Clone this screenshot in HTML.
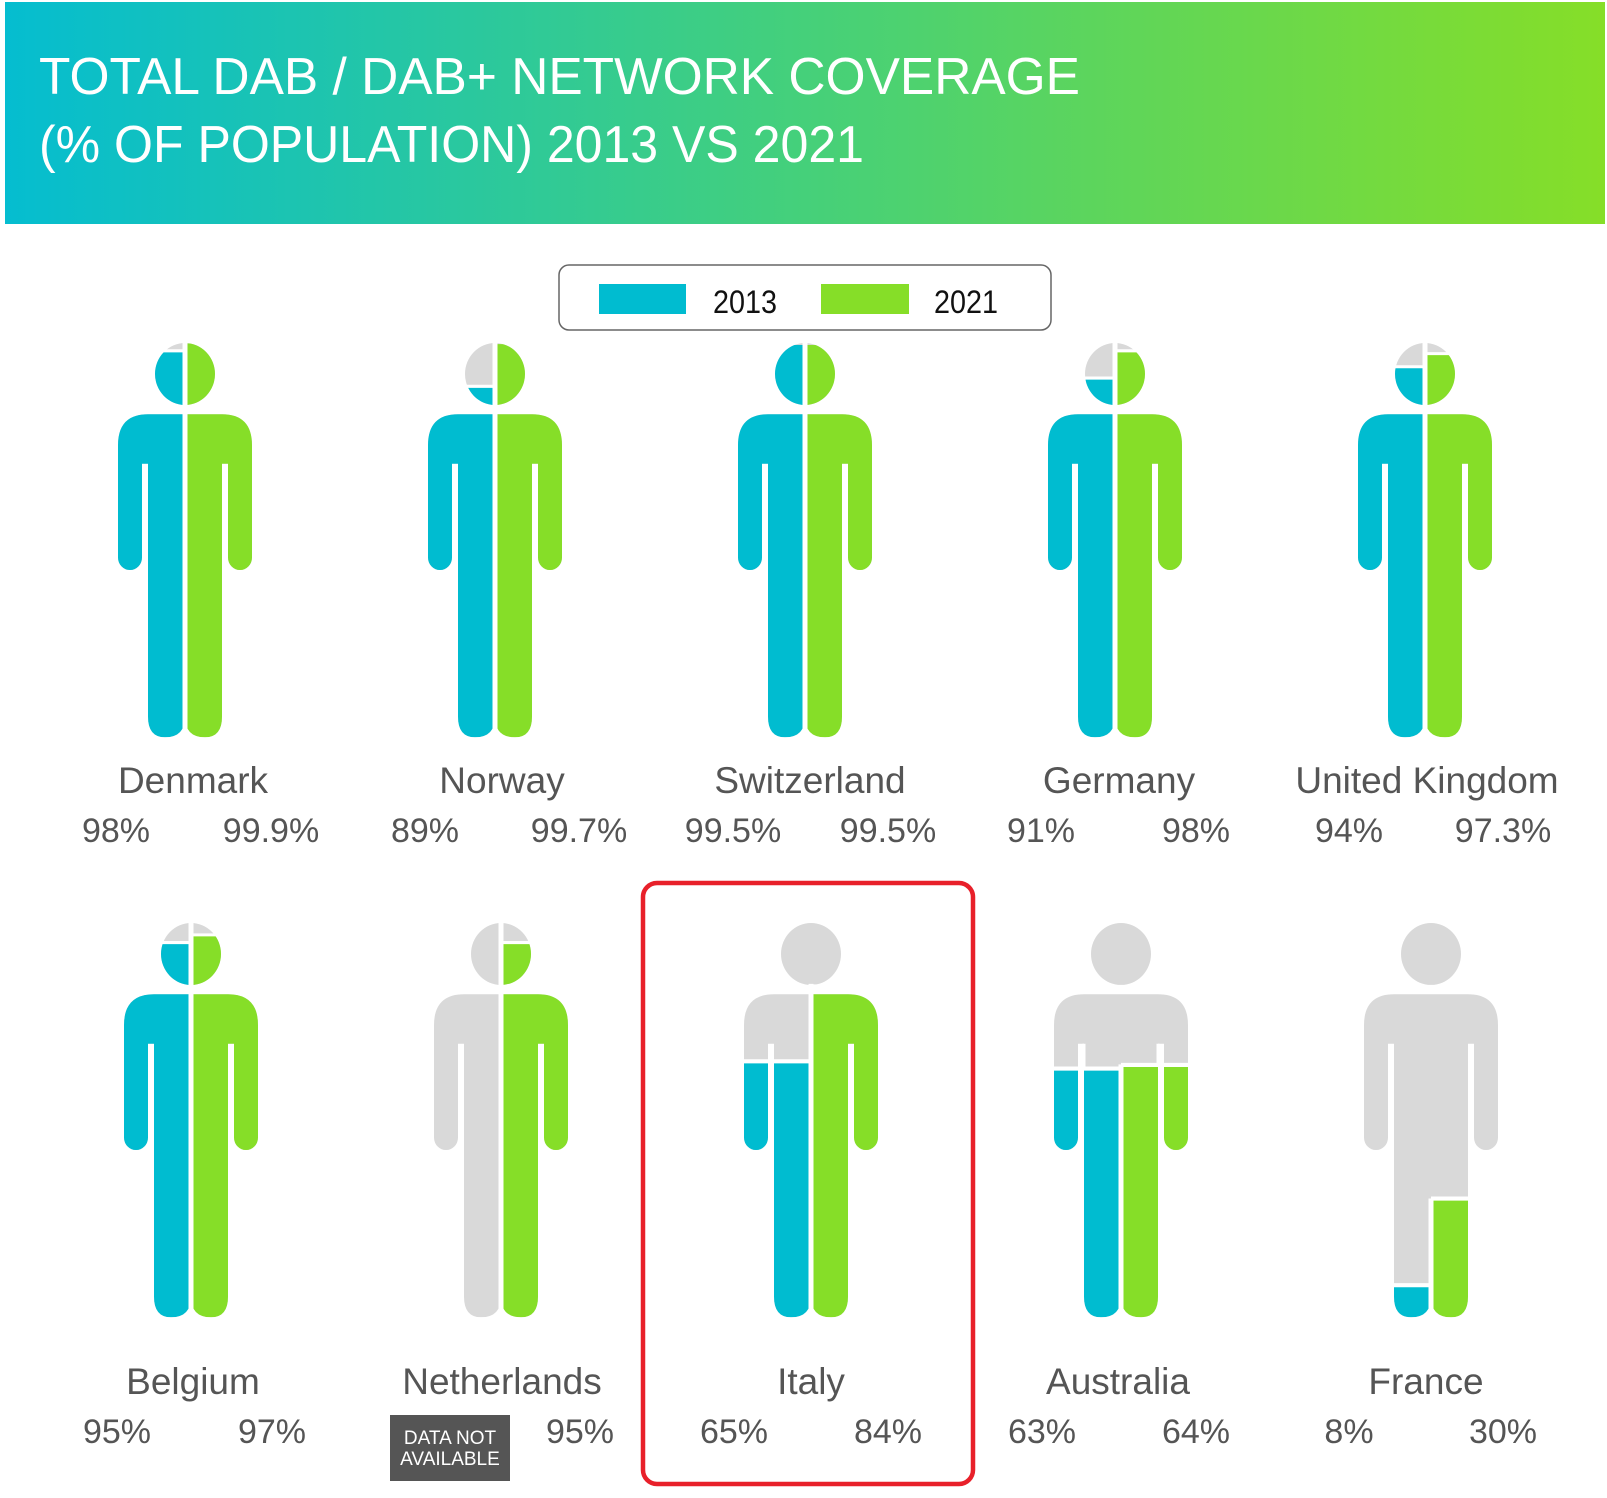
<!DOCTYPE html>
<html><head><meta charset="utf-8"><style>
html,body{margin:0;padding:0;background:#fff;overflow:hidden;width:1607px;height:1498px;}
svg{display:block;}
text{font-family:"Liberation Sans",sans-serif;}
</style></head><body>
<svg width="1607" height="1498" viewBox="0 0 1607 1498" xmlns="http://www.w3.org/2000/svg">
<defs>
<linearGradient id="hg" x1="0" x2="1" y1="0" y2="0">
<stop offset="0" stop-color="#05BDD0"/><stop offset="0.5" stop-color="#45D07A"/><stop offset="1" stop-color="#86DE28"/>
</linearGradient>
<clipPath id="p" clipPathUnits="userSpaceOnUse">
<circle cx="0" cy="30" r="30"/>
<path d="M-67,99 Q-67,69 -37,69 L37,69 Q67,69 67,99 L67,208 A12,12 0 0 1 55,220 A12,12 0 0 1 43,208 L43,117 L37,117 L37,362 Q37,382 20,382 Q0,382 0,362 Q0,382 -20,382 Q-37,382 -37,362 L-37,117 L-43,117 L-43,208 A12,12 0 0 1 -55,220 A12,12 0 0 1 -67,208 Z"/>
</clipPath>
</defs>
<rect x="5" y="2" width="1600" height="222" fill="url(#hg)"/>
<text x="39" y="94" font-size="52" fill="#fff" textLength="1041" lengthAdjust="spacingAndGlyphs">TOTAL DAB / DAB+ NETWORK COVERAGE</text>
<text x="39" y="162" font-size="52" fill="#fff" textLength="825" lengthAdjust="spacingAndGlyphs">(% OF POPULATION) 2013 VS 2021</text>

<rect x="559" y="265" width="492" height="65" rx="10" fill="#fff" stroke="#666" stroke-width="1.5"/>
<rect x="599" y="284" width="87" height="30" fill="#00BCD0"/>
<rect x="821" y="284" width="88" height="30" fill="#86DE28"/>
<text x="713" y="313" font-size="32" fill="#111" textLength="64" lengthAdjust="spacingAndGlyphs">2013</text>
<text x="934" y="313" font-size="32" fill="#111" textLength="64" lengthAdjust="spacingAndGlyphs">2021</text>

<g fill="none">
<g transform="translate(185,343) scale(1,1.032)"><g clip-path="url(#p)"><rect x="-70" y="-5" width="140" height="395" fill="#D9D9D9"/><rect x="-70" y="7.6" width="70" height="390" fill="#00BCD0"/><rect x="0" y="0.4" width="70" height="390" fill="#86DE28"/></g><line x1="-70" x2="0" y1="7.6" y2="7.6" stroke="#fff" stroke-width="3"/><line x1="0" x2="0" y1="-5" y2="390" stroke="#fff" stroke-width="5"/></g>
<g transform="translate(495,343) scale(1,1.032)"><g clip-path="url(#p)"><rect x="-70" y="-5" width="140" height="395" fill="#D9D9D9"/><rect x="-70" y="42" width="70" height="390" fill="#00BCD0"/><rect x="0" y="1.1" width="70" height="390" fill="#86DE28"/></g><line x1="-70" x2="0" y1="42" y2="42" stroke="#fff" stroke-width="3"/><line x1="0" x2="0" y1="-5" y2="390" stroke="#fff" stroke-width="5"/></g>
<g transform="translate(805,343) scale(1,1.032)"><g clip-path="url(#p)"><rect x="-70" y="-5" width="140" height="395" fill="#D9D9D9"/><rect x="-70" y="1.9" width="70" height="390" fill="#00BCD0"/><rect x="0" y="1.9" width="70" height="390" fill="#86DE28"/></g><line x1="0" x2="0" y1="-5" y2="390" stroke="#fff" stroke-width="5"/></g>
<g transform="translate(1115,343) scale(1,1.032)"><g clip-path="url(#p)"><rect x="-70" y="-5" width="140" height="395" fill="#D9D9D9"/><rect x="-70" y="34" width="70" height="390" fill="#00BCD0"/><rect x="0" y="7.6" width="70" height="390" fill="#86DE28"/></g><line x1="-70" x2="0" y1="34" y2="34" stroke="#fff" stroke-width="3"/><line x1="0" x2="70" y1="7.6" y2="7.6" stroke="#fff" stroke-width="3"/><line x1="0" x2="0" y1="-5" y2="390" stroke="#fff" stroke-width="5"/></g>
<g transform="translate(1425,343) scale(1,1.032)"><g clip-path="url(#p)"><rect x="-70" y="-5" width="140" height="395" fill="#D9D9D9"/><rect x="-70" y="23" width="70" height="390" fill="#00BCD0"/><rect x="0" y="10.3" width="70" height="390" fill="#86DE28"/></g><line x1="-70" x2="0" y1="23" y2="23" stroke="#fff" stroke-width="3"/><line x1="0" x2="70" y1="10.3" y2="10.3" stroke="#fff" stroke-width="3"/><line x1="0" x2="0" y1="-5" y2="390" stroke="#fff" stroke-width="5"/></g>

<g transform="translate(191,923) scale(1,1.032)"><g clip-path="url(#p)"><rect x="-70" y="-5" width="140" height="395" fill="#D9D9D9"/><rect x="-70" y="19" width="70" height="390" fill="#00BCD0"/><rect x="0" y="11.5" width="70" height="390" fill="#86DE28"/></g><line x1="-70" x2="0" y1="19" y2="19" stroke="#fff" stroke-width="3"/><line x1="0" x2="70" y1="11.5" y2="11.5" stroke="#fff" stroke-width="3"/><line x1="0" x2="0" y1="-5" y2="390" stroke="#fff" stroke-width="5"/></g>
<g transform="translate(501,923) scale(1,1.032)"><g clip-path="url(#p)"><rect x="-70" y="-5" width="140" height="395" fill="#D9D9D9"/><rect x="0" y="19" width="70" height="390" fill="#86DE28"/></g><line x1="0" x2="70" y1="19" y2="19" stroke="#fff" stroke-width="3"/><line x1="0" x2="0" y1="-5" y2="390" stroke="#fff" stroke-width="5"/></g>
<g transform="translate(811,923) scale(1,1.032)"><g clip-path="url(#p)"><rect x="-70" y="-5" width="140" height="395" fill="#D9D9D9"/><rect x="-70" y="134" width="70" height="390" fill="#00BCD0"/><rect x="0" y="61" width="70" height="390" fill="#86DE28"/></g><line x1="-70" x2="0" y1="134" y2="134" stroke="#fff" stroke-width="4"/><line x1="0" x2="70" y1="61" y2="61" stroke="#fff" stroke-width="3"/><line x1="0" x2="0" y1="59" y2="390" stroke="#fff" stroke-width="5"/></g>
<g transform="translate(1121,923) scale(1,1.032)"><g clip-path="url(#p)"><rect x="-70" y="-5" width="140" height="395" fill="#D9D9D9"/><rect x="-70" y="141" width="70" height="390" fill="#00BCD0"/><rect x="0" y="137.5" width="70" height="390" fill="#86DE28"/></g><line x1="-70" x2="0" y1="141" y2="141" stroke="#fff" stroke-width="4"/><line x1="0" x2="70" y1="137.5" y2="137.5" stroke="#fff" stroke-width="4"/><line x1="-37" x2="-37" y1="117" y2="141" stroke="#fff" stroke-width="3"/><line x1="37" x2="37" y1="117" y2="137.5" stroke="#fff" stroke-width="3"/><line x1="0" x2="0" y1="137" y2="390" stroke="#fff" stroke-width="5"/></g>
<g transform="translate(1431,923) scale(1,1.032)"><g clip-path="url(#p)"><rect x="-70" y="-5" width="140" height="395" fill="#D9D9D9"/><rect x="-70" y="351" width="70" height="390" fill="#00BCD0"/><rect x="0" y="267" width="70" height="390" fill="#86DE28"/></g><line x1="-70" x2="0" y1="351" y2="351" stroke="#fff" stroke-width="4"/><line x1="0" x2="70" y1="267" y2="267" stroke="#fff" stroke-width="4"/><line x1="0" x2="0" y1="267" y2="390" stroke="#fff" stroke-width="5"/></g>
</g>

<g font-size="37" fill="#555" text-anchor="middle">
<text x="193" y="793">Denmark</text>
<text x="502" y="793">Norway</text>
<text x="810" y="793">Switzerland</text>
<text x="1119" y="793">Germany</text>
<text x="1427" y="793">United Kingdom</text>
<text x="193" y="1394">Belgium</text>
<text x="502" y="1394">Netherlands</text>
<text x="811" y="1394">Italy</text>
<text x="1118" y="1394">Australia</text>
<text x="1426" y="1394">France</text>
</g>
<g font-size="34" fill="#555" text-anchor="middle">
<text x="116" y="842">98%</text><text x="271" y="842">99.9%</text>
<text x="425" y="842">89%</text><text x="579" y="842">99.7%</text>
<text x="733" y="842">99.5%</text><text x="888" y="842">99.5%</text>
<text x="1041" y="842">91%</text><text x="1196" y="842">98%</text>
<text x="1349" y="842">94%</text><text x="1503" y="842">97.3%</text>
<text x="117" y="1443">95%</text><text x="272" y="1443">97%</text>
<text x="580" y="1443">95%</text>
<text x="734" y="1443">65%</text><text x="888" y="1443">84%</text>
<text x="1042" y="1443">63%</text><text x="1196" y="1443">64%</text>
<text x="1349" y="1443">8%</text><text x="1503" y="1443">30%</text>
</g>
<rect x="390" y="1415" width="120" height="66" fill="#555"/>
<text x="450" y="1444" font-size="19" fill="#fff" text-anchor="middle">DATA NOT</text>
<text x="450" y="1465" font-size="19" fill="#fff" text-anchor="middle">AVAILABLE</text>
<rect x="643" y="883" width="330" height="601" rx="14" fill="none" stroke="#E8202A" stroke-width="4.5"/>
</svg>
</body></html>
